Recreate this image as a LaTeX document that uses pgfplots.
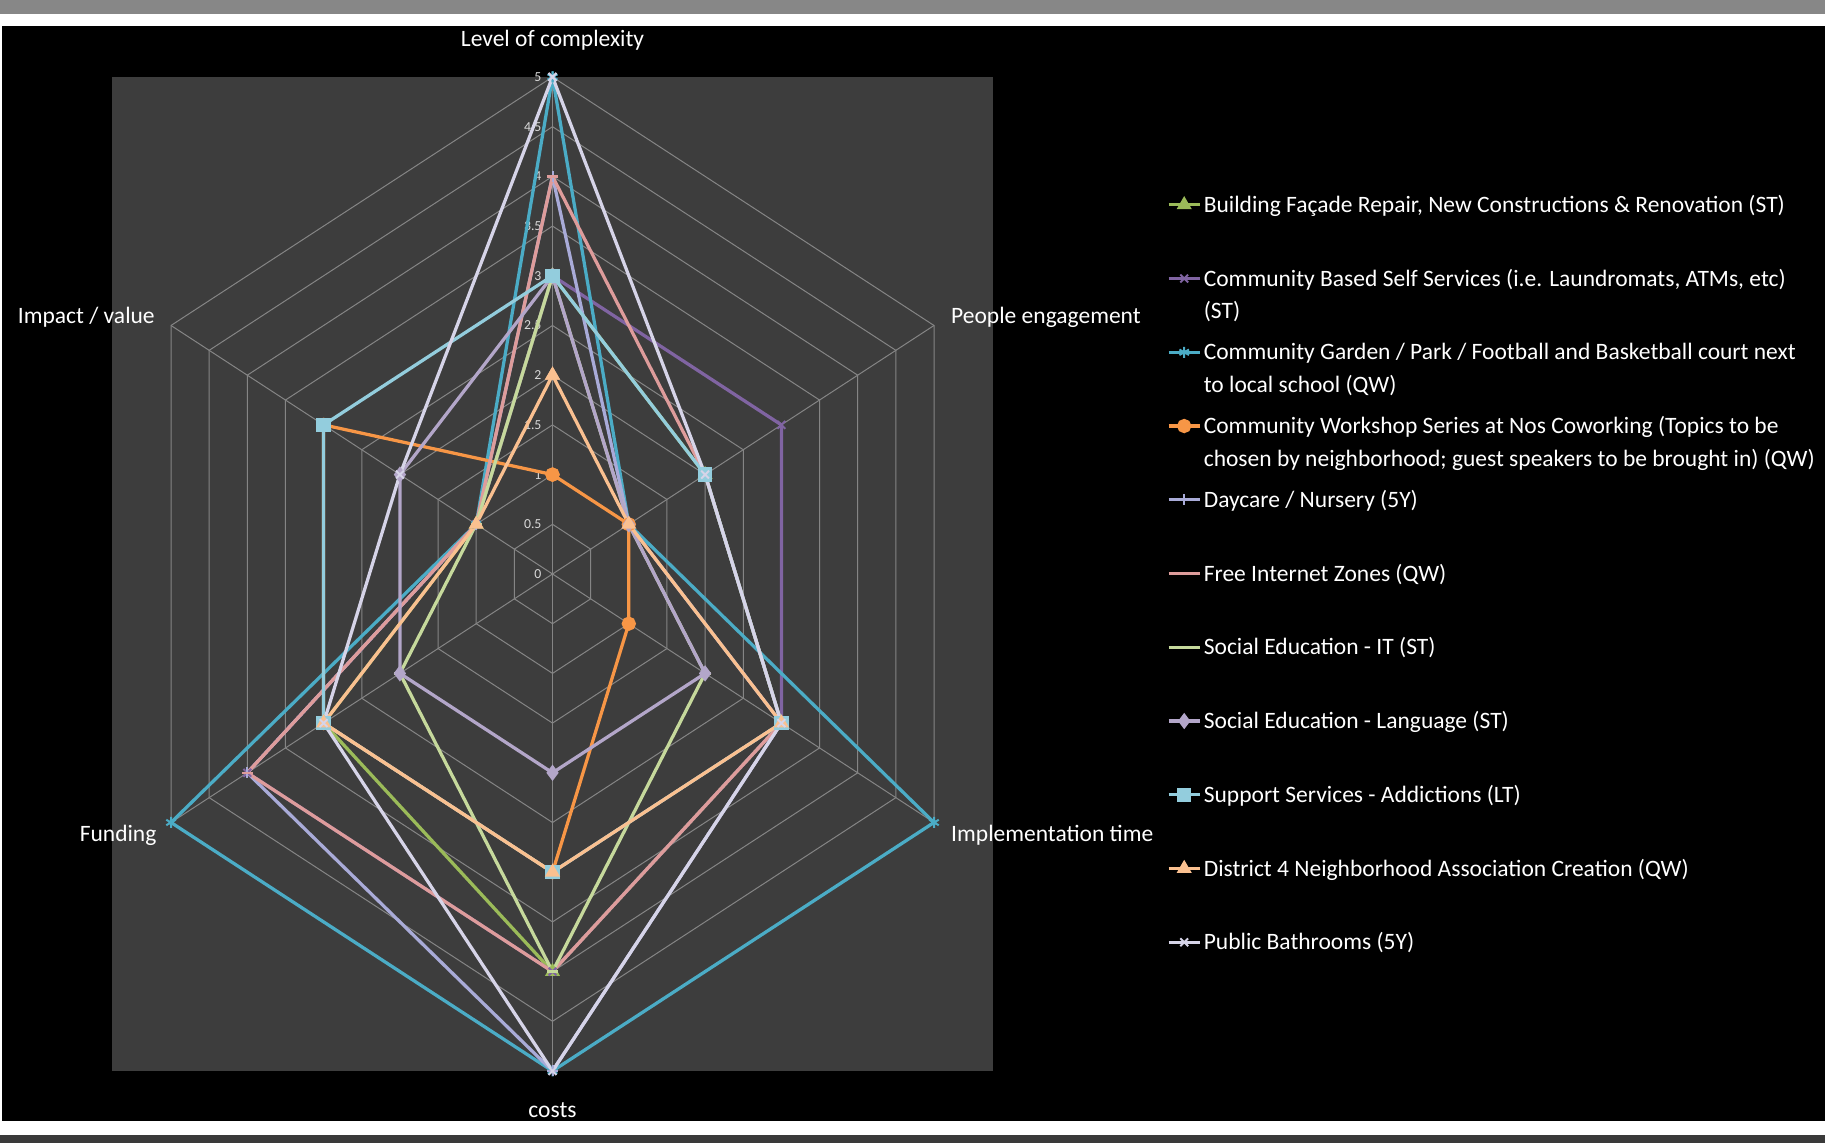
\documentclass[border=0pt]{standalone}
\usepackage{fontspec}
\setmainfont{Carlito}
\usepackage{pgfplots}
\pgfplotsset{compat=1.18}
\usepgfplotslibrary{polar}

\definecolor{plotbg}{HTML}{3D3D3D}
\definecolor{gridc}{HTML}{858585}
\definecolor{topbar}{HTML}{878787}
\definecolor{botbar}{HTML}{3A3A3A}
\definecolor{ticklab}{HTML}{D9D9D9}
\definecolor{sFacade}{HTML}{9BBB59}
\definecolor{sSelf}{HTML}{8064A2}
\definecolor{sGarden}{HTML}{4BACC6}
\definecolor{sWork}{HTML}{F79646}
\definecolor{sDay}{HTML}{A9ABD8}
\definecolor{sNet}{HTML}{DE9C9B}
\definecolor{sIT}{HTML}{C6D99C}
\definecolor{sLang}{HTML}{B3A6C9}
\definecolor{sAdd}{HTML}{93CDDD}
\definecolor{sDist}{HTML}{FAC090}
\definecolor{sBath}{HTML}{D6D4E8}

\tikzset{lab/.style={font=\fontsize{9.4}{11}\selectfont, text=white, inner sep=0pt}}
\pgfplotsset{
  grid line/.style={gridc, line width=0.4pt, forget plot, data cs=polar},
  series/.style={line width=1.3pt, mark size=2.2pt, data cs=polar},
}

\newcommand\lgd[1]{\parbox[t][29.5pt][t]{245pt}{\raggedright\strut #1}}

\begin{document}
\begin{tikzpicture}
\useasboundingbox (0,0) rectangle (730pt,457.2pt);
\fill[white] (0,0) rectangle (730pt,457.2pt);
\fill[topbar] (0,451.6pt) rectangle (730pt,457.2pt);
\fill[black] (0.8pt,8.8pt) rectangle (730pt,446.8pt);
\fill[botbar] (0,0) rectangle (730pt,3.2pt);

\begin{axis}[
  at={(44.8pt,28.8pt)}, anchor=south west,
  scale only axis, width=352.4pt, height=397.6pt,
  xmin=-5, xmax=5, ymin=-5, ymax=5,
  axis line style={draw=none}, xtick=\empty, ytick=\empty,
  axis background/.style={fill=plotbg},
  clip=false,
  legend image code/.code={\draw[mark repeat=2,mark phase=2,#1]
    plot coordinates {(0pt,3pt) (6.2pt,3pt) (12.4pt,3pt)};},
  legend style={at={(1.1970,0.8873)}, anchor=north west, draw=none, fill=none,
    inner sep=0pt, row sep=0pt, column sep=1pt,
    font=\fontsize{9.4}{13}\selectfont, text=white,
    nodes={inner sep=0pt, text depth={}}, cells={anchor=base west}},
]
% hexagonal grid and spokes
\pgfplotsinvokeforeach{0.5,1,1.5,2,2.5,3,3.5,4,4.5,5}{
  \addplot[grid line] coordinates
    {(90,#1) (30,#1) (-30,#1) (-90,#1) (-150,#1) (150,#1) (90,#1)};
}
\pgfplotsinvokeforeach{90,30,-30,-90,-150,150}{
  \addplot[grid line] coordinates {(#1,0) (#1,5)};
}
\pgfplotsinvokeforeach{0,0.5,1,1.5,2,2.5,3,3.5,4,4.5,5}{
  \node[anchor=east, inner sep=0pt, text=ticklab,
    font=\fontsize{5.5}{6}\selectfont] at (axis cs:-0.12,#1) {#1};
}

% angle order: complexity 90, people 30, implementation -30, costs -90, funding -150, impact 150
\addplot[series, sFacade, mark=triangle*, mark options={fill=sFacade}] coordinates
  {(90,3) (30,2) (-30,3) (-90,4) (-150,3) (150,1) (90,3)};
\addlegendentry{\lgd{Building Façade Repair, New Constructions \& Renovation (ST)}}
\addplot[series, sSelf, mark=x, mark options={line width=0.8pt}] coordinates
  {(90,3) (30,3) (-30,3) (-90,4) (-150,4) (150,1) (90,3)};
\addlegendentry{\lgd{Community Based Self Services (i.e. Laundromats, ATMs, etc)\\(ST)}}
\addplot[series, sGarden, mark=asterisk, mark options={line width=0.8pt}] coordinates
  {(90,5) (30,1) (-30,5) (-90,5) (-150,5) (150,1) (90,5)};
\addlegendentry{\lgd{Community Garden / Park / Football and Basketball court next\\to local school (QW)}}
\addplot[series, sWork, mark=*, mark options={fill=sWork}] coordinates
  {(90,1) (30,1) (-30,1) (-90,3) (-150,3) (150,3) (90,1)};
\addlegendentry{\lgd{Community Workshop Series at Nos Coworking (Topics to be\\chosen by neighborhood; guest speakers to be brought in) (QW)}}
\addplot[series, sDay, mark=+, mark options={line width=0.8pt}] coordinates
  {(90,4) (30,1) (-30,3) (-90,5) (-150,4) (150,1) (90,4)};
\addlegendentry{\lgd{Daycare / Nursery (5Y)}}
\addplot[series, sNet, mark=-, mark options={line width=1pt}] coordinates
  {(90,4) (30,2) (-30,3) (-90,4) (-150,4) (150,1) (90,4)};
\addlegendentry{\lgd{Free Internet Zones (QW)}}
\addplot[series, sIT, mark=-, mark options={line width=1pt}] coordinates
  {(90,3) (30,1) (-30,2) (-90,4) (-150,2) (150,1) (90,3)};
\addlegendentry{\lgd{Social Education - IT (ST)}}
\addplot[series, sLang, mark=diamond*, mark options={fill=sLang}] coordinates
  {(90,3) (30,1) (-30,2) (-90,2) (-150,2) (150,2) (90,3)};
\addlegendentry{\lgd{Social Education - Language (ST)}}
\addplot[series, sAdd, mark=square*, mark options={fill=sAdd}] coordinates
  {(90,3) (30,2) (-30,3) (-90,3) (-150,3) (150,3) (90,3)};
\addlegendentry{\lgd{Support Services - Addictions (LT)}}
\addplot[series, sDist, mark=triangle*, mark options={fill=sDist}] coordinates
  {(90,2) (30,1) (-30,3) (-90,3) (-150,3) (150,1) (90,2)};
\addlegendentry{\lgd{District 4 Neighborhood Association Creation (QW)}}
\addplot[series, sBath, mark=x, mark options={line width=0.8pt}] coordinates
  {(90,5) (30,2) (-30,3) (-90,5) (-150,3) (150,2) (90,5)};
\addlegendentry{\lgd{Public Bathrooms (5Y)}}

\node[lab, anchor=center] at (axis cs:0,5.37) {Level of complexity};
\node[lab, anchor=west] at (axis cs:4.52,2.585) {People engagement};
\node[lab, anchor=west] at (axis cs:4.52,-2.63) {Implementation time};
\node[lab, anchor=center] at (axis cs:0,-5.39) {costs};
\node[lab, anchor=east] at (axis cs:-4.49,-2.63) {Funding};
\node[lab, anchor=east] at (axis cs:-4.51,2.585) {Impact / value};
\end{axis}
\end{tikzpicture}
\end{document}
